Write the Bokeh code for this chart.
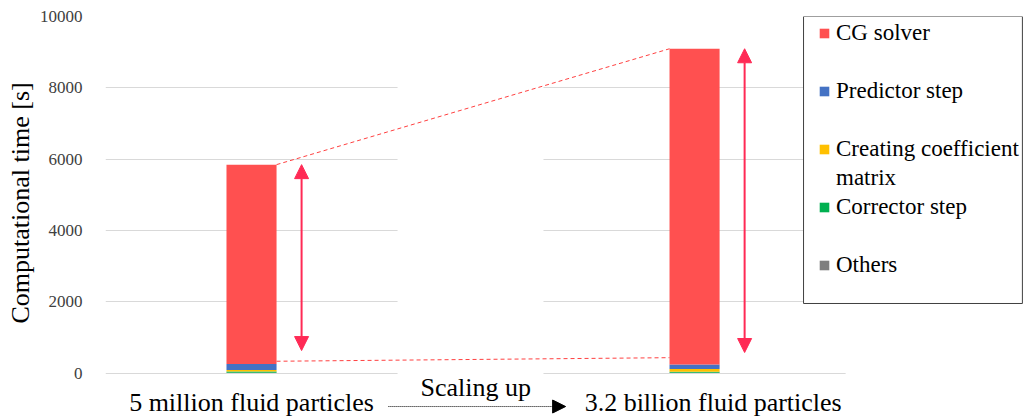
from bokeh.plotting import figure
from bokeh.models import (Range1d, FixedTicker, Legend, LegendItem, Arrow,
                          NormalHead, Label, ColumnDataSource, BoxAnnotation, Title)
from bokeh.core.properties import value
from bokeh.embed import file_html
from bokeh.resources import INLINE

# ---------------- data ----------------
cases = ["5 million fluid particles", "3.2 billion fluid particles"]
others = [5, 5]
corrector = [35, 30]
creating = [45, 75]
predictor = [170, 130]
cg_solver = [5590, 8855]
series_keys = ["others", "corrector", "creating", "predictor", "cg"]
colors = ["#7F7F7F", "#00B050", "#FFC000", "#4472C4", "#FF5050"]
y_ticks = [0, 2000, 4000, 6000, 8000, 10000]
arrow_bottom = [630, 575]      # lower tip of the red double arrows
lower_link = [330, 430]        # lower dashed connector ends

# ---------------- derived ----------------
xpos = list(range(len(cases)))
totals = [a + b + c + d + e for a, b, c, d, e in
          zip(others, corrector, creating, predictor, cg_solver)]

source = ColumnDataSource(dict(x=xpos, others=others, corrector=corrector,
                               creating=creating, predictor=predictor,
                               cg=cg_solver))

BAR_W = 0.113
FONT = "Liberation Serif"

p = figure(width=1025, height=419,
           x_range=Range1d(-0.3296, 1.747), y_range=Range1d(-1304, 10000),
           output_backend="svg", toolbar_location=None,
           min_border_left=105, min_border_right=0,
           min_border_top=16, min_border_bottom=0)
p.outline_line_color = None
p.background_fill_color = "white"
p.xaxis.visible = False

# grid
p.xgrid.grid_line_color = None
p.ygrid.grid_line_color = "#D9D9D9"
p.ygrid.grid_line_width = 1

# white bands breaking the gridlines (middle gap and right end)
p.quad(left=[0.3296, 1.341], right=[0.659, 2.5], bottom=-200, top=11000,
       fill_color="white", line_color=None)

# stacked bars
renderers = p.vbar_stack(series_keys, x="x", width=BAR_W, color=colors,
                         line_color=None, source=source)

# y axis
p.yaxis.ticker = FixedTicker(ticks=y_ticks)
p.yaxis.axis_line_color = None
p.yaxis.major_tick_line_color = None
p.yaxis.minor_tick_line_color = None
p.yaxis.major_label_standoff = 17
p.yaxis.major_label_text_font = FONT
p.yaxis.major_label_text_font_size = "17px"
p.yaxis.major_label_text_color = "#404040"

# y title (positioned along the axis from the frame bottom)
p.add_layout(Title(text="Computational time [s]", align="left", offset=96,
                   text_font=FONT, text_font_size="26px", text_font_style="normal",
                   text_color="black", standoff=4), "left")

# category labels (drawn through the data scales)
label_shift = [0.0, 0.042]
label_x = [x + s for x, s in zip(xpos, label_shift)]
p.text(x=label_x, y=[-828] * len(cases), text=cases,
       text_font=value(FONT), text_font_size="26px", text_color="black",
       text_align="center", text_baseline="alphabetic")

# dashed connectors
p.segment(x0=[xpos[0] + BAR_W / 2] * 2, y0=[totals[0], lower_link[0]],
          x1=[xpos[1] - BAR_W / 2] * 2, y1=[totals[1], lower_link[1]],
          line_color="#FF4040", line_dash="4 3", line_width=1)

# red double arrows
ARROW_COL = "#FF2A55"
for i in range(len(xpos)):
    ax = xpos[i] + BAR_W
    p.add_layout(Arrow(x_start=ax, y_start=arrow_bottom[i], x_end=ax, y_end=totals[i],
                       line_color=ARROW_COL, line_width=2,
                       start=NormalHead(size=14, fill_color=ARROW_COL, line_color=ARROW_COL),
                       end=NormalHead(size=14, fill_color=ARROW_COL, line_color=ARROW_COL)))

# "Scaling up" annotation
p.add_layout(Label(x=0.506, y=-410, text="Scaling up", text_align="center",
                   text_baseline="alphabetic", text_font=FONT, text_font_size="26px",
                   text_color="black"))
p.add_layout(Arrow(x_start=0.309, y_start=-940, x_end=0.709, y_end=-940,
                   line_color="black", line_width=1, line_dash="1 1",
                   end=NormalHead(size=13, fill_color="black", line_color="black")))

# legend frame
p.add_layout(BoxAnnotation(left=1.246, right=1.740, top=10000, bottom=1950,
                           fill_color="white", fill_alpha=1.0,
                           line_color="#404040", line_width=1, line_alpha=1.0))

# legend (blank rows reproduce the original's spacing)
blank = p.scatter(x=[], y=[], fill_alpha=0, line_alpha=0)
r = dict(zip(series_keys, renderers))
rows = [("CG solver", r["cg"]), (" ", blank),
        ("Predictor step", r["predictor"]), (" ", blank),
        ("Creating coefficient", r["creating"]), ("matrix", blank),
        ("Corrector step", r["corrector"]), (" ", blank),
        ("Others", r["others"])]
items = [LegendItem(label=lab, renderers=[rend]) for lab, rend in rows]
legend = Legend(items=items, location=(713, 140),
                label_text_font=FONT, label_text_font_size="23px",
                label_text_color="black", label_height=28,
                glyph_width=12, glyph_height=12, label_standoff=6,
                padding=0, spacing=1, margin=0,
                border_line_color=None, background_fill_alpha=0.0)
p.add_layout(legend, "center")

open("out.html", "w").write(file_html(p, INLINE))
